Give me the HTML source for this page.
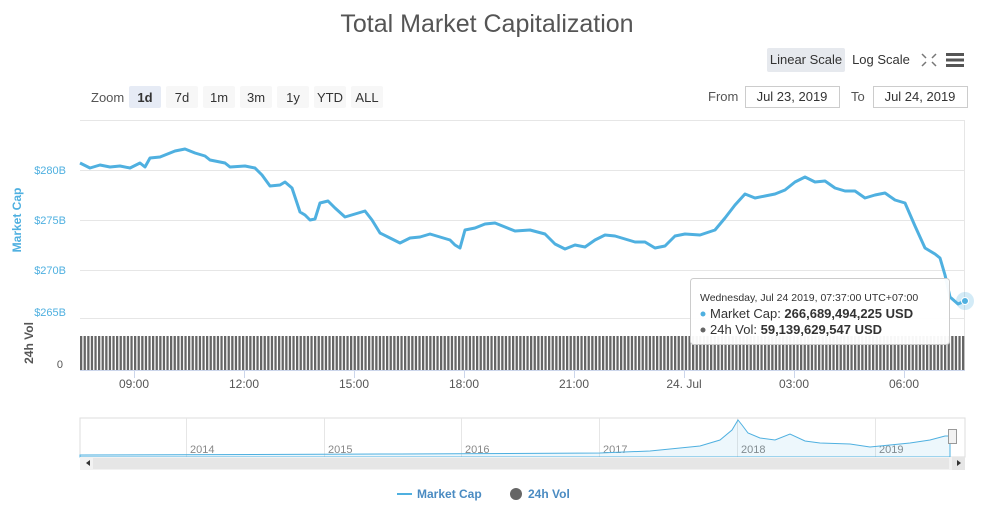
<!DOCTYPE html>
<html><head><meta charset="utf-8"><style>
body{margin:0;background:#fff;font-family:"Liberation Sans",sans-serif;}
</style></head><body>
<svg width="981" height="509" viewBox="0 0 981 509" xmlns="http://www.w3.org/2000/svg" font-family="Liberation Sans, sans-serif">
<defs>
<pattern id="vb" x="80" y="0" width="3.6" height="10" patternUnits="userSpaceOnUse"><rect x="0" y="0" width="2.3" height="10" fill="#666"/></pattern>
</defs>
<text x="487" y="32" text-anchor="middle" font-size="25" fill="#555">Total Market Capitalization</text>
<rect x="767" y="48" width="78" height="24" rx="2" fill="#e6e9ee"/>
<text x="806" y="64" text-anchor="middle" font-size="13" fill="#333">Linear Scale</text>
<text x="881" y="64" text-anchor="middle" font-size="13" fill="#333">Log Scale</text>
<g stroke="#777" stroke-width="1.5" fill="none"><path d="M922 54l4 4M936 54l-4 4M922 66l4-4M936 66l-4-4"/></g>
<g fill="#555"><rect x="946" y="53" width="18" height="3"/><rect x="946" y="58.5" width="18" height="3"/><rect x="946" y="64" width="18" height="3"/></g>
<text x="91" y="102" font-size="13" fill="#555">Zoom</text>
<g font-size="13" fill="#333" text-anchor="middle">
<rect x="129" y="86" width="32" height="22" rx="2" fill="#e6ebf5"/><text x="145" y="102" font-weight="bold">1d</text>
<rect x="166" y="86" width="32" height="22" rx="2" fill="#f7f7f7"/><text x="182" y="102">7d</text>
<rect x="203" y="86" width="32" height="22" rx="2" fill="#f7f7f7"/><text x="219" y="102">1m</text>
<rect x="240" y="86" width="32" height="22" rx="2" fill="#f7f7f7"/><text x="256" y="102">3m</text>
<rect x="277" y="86" width="32" height="22" rx="2" fill="#f7f7f7"/><text x="293" y="102">1y</text>
<rect x="314" y="86" width="32" height="22" rx="2" fill="#f7f7f7"/><text x="330" y="102">YTD</text>
<rect x="351" y="86" width="32" height="22" rx="2" fill="#f7f7f7"/><text x="367" y="102">ALL</text>
</g>
<text x="708" y="101" font-size="13" fill="#555">From</text>
<rect x="745.5" y="86.5" width="94" height="21" fill="#fff" stroke="#ccc"/>
<text x="792" y="101" text-anchor="middle" font-size="13" fill="#333">Jul 23, 2019</text>
<text x="851" y="101" font-size="13" fill="#555">To</text>
<rect x="873.5" y="86.5" width="94" height="21" fill="#fff" stroke="#ccc"/>
<text x="920" y="101" text-anchor="middle" font-size="13" fill="#333">Jul 24, 2019</text>
<g stroke="#e6e6e6" stroke-width="1"><line x1="80" y1="120.5" x2="965" y2="120.5"/><line x1="80" y1="170.5" x2="965" y2="170.5"/><line x1="80" y1="220.5" x2="965" y2="220.5"/><line x1="80" y1="270.5" x2="965" y2="270.5"/><line x1="80" y1="318.5" x2="965" y2="318.5"/><line x1="964.5" y1="120" x2="964.5" y2="370"/></g>
<g font-size="11" fill="#4fb0e0" text-anchor="end"><text x="66" y="174">$280B</text><text x="66" y="224">$275B</text><text x="66" y="274">$270B</text><text x="66" y="316">$265B</text></g>
<text transform="translate(21,220) rotate(-90)" text-anchor="middle" font-size="12" font-weight="bold" fill="#4fb0e0">Market Cap</text>
<text transform="translate(33,343) rotate(-90)" text-anchor="middle" font-size="12" font-weight="bold" fill="#555">24h Vol</text>
<text x="63" y="368" font-size="11" fill="#555" text-anchor="end">0</text>
<rect x="80" y="336" width="885" height="34" fill="url(#vb)"/>
<line x1="80" y1="370.5" x2="965" y2="370.5" stroke="#ccd6eb"/>
<g stroke="#ccd6eb"><line x1="134.5" y1="370" x2="134.5" y2="378"/><line x1="244.5" y1="370" x2="244.5" y2="378"/><line x1="354.5" y1="370" x2="354.5" y2="378"/><line x1="464.5" y1="370" x2="464.5" y2="378"/><line x1="574.5" y1="370" x2="574.5" y2="378"/><line x1="684.5" y1="370" x2="684.5" y2="378"/><line x1="794.5" y1="370" x2="794.5" y2="378"/><line x1="904.5" y1="370" x2="904.5" y2="378"/></g>
<g font-size="12" fill="#555" text-anchor="middle"><text x="134" y="388">09:00</text><text x="244" y="388">12:00</text><text x="354" y="388">15:00</text><text x="464" y="388">18:00</text><text x="574" y="388">21:00</text><text x="684" y="388">24. Jul</text><text x="794" y="388">03:00</text><text x="904" y="388">06:00</text></g>
<polyline fill="none" stroke="#4fb0e0" stroke-width="3" stroke-linejoin="round" points="80,163 90,168 100,165 110,167 120,166 130,168 140,163 145,167 150,158 160,157 170,153 175,151 185,149 195,153 205,156 210,160 215,161 225,163 230,167 245,166 255,168 262,175 270,186 280,185 285,182 292,188 300,212 305,215 310,220 315,219 320,203 328,201 335,208 345,217 355,214 365,211 372,220 380,233 390,238 400,243 410,238 420,237 430,234 440,237 450,240 455,245 460,248 465,230 475,228 485,224 495,223 505,227 515,231 530,230 545,234 555,244 565,249 575,245 585,247 595,240 605,235 615,236 625,239 635,242 645,242 655,248 665,246 675,236 685,234 700,235 715,230 725,218 735,205 745,194 755,198 765,196 775,194 785,190 795,182 805,177 815,182 825,181 835,188 845,191 855,191 865,198 875,195 885,193 895,200 905,203 915,226 925,248 935,254 940,258 945,275 950,297 958,304 965,301"/>
<circle cx="965" cy="301" r="9" fill="#4fb0e0" opacity="0.25"/><circle cx="965" cy="301" r="3.5" fill="#4fb0e0" stroke="#fff"/>
<rect x="690.5" y="278.5" width="259" height="66" rx="3" fill="#fff" fill-opacity="0.95" stroke="#ccc"/>
<text x="700" y="301" font-size="10.5" fill="#333">Wednesday, Jul 24 2019, 07:37:00 UTC+07:00</text>
<circle cx="703" cy="314" r="2.5" fill="#4fb0e0"/><text x="710" y="318" font-size="13" fill="#333">Market Cap: <tspan font-weight="bold">266,689,494,225 USD</tspan></text>
<circle cx="703" cy="330" r="2.5" fill="#666"/><text x="710" y="334" font-size="13" fill="#333">24h Vol: <tspan font-weight="bold">59,139,629,547 USD</tspan></text>
<rect x="80" y="418" width="885" height="39" fill="#fff" stroke="#ddd"/>
<g stroke="#e6e6e6"><line x1="186.5" y1="418" x2="186.5" y2="457"/><line x1="324.5" y1="418" x2="324.5" y2="457"/><line x1="461.5" y1="418" x2="461.5" y2="457"/><line x1="599.5" y1="418" x2="599.5" y2="457"/><line x1="737.5" y1="418" x2="737.5" y2="457"/><line x1="875.5" y1="418" x2="875.5" y2="457"/></g>
<g font-size="11" fill="#888"><text x="190" y="453">2014</text><text x="328" y="453">2015</text><text x="465" y="453">2016</text><text x="603" y="453">2017</text><text x="741" y="453">2018</text><text x="879" y="453">2019</text></g>
<path d="M80,455 L400,454 L600,453 L650,451 L700,446 L720,440 L732,430 L738,420 L742,425 L748,433 L760,438 L775,440 L790,434 L805,441 L820,443 L850,444 L870,447 L890,445 L910,443 L930,440 L945,436 L950,436 L950,457 L80,457Z" fill="#4fb0e0" fill-opacity="0.1" stroke="#4fb0e0" stroke-width="1"/>
<rect x="948.5" y="429.5" width="8" height="14" fill="#f2f2f2" stroke="#999"/>
<rect x="80" y="457" width="885" height="13" fill="#f2f2f2"/>
<rect x="93" y="458" width="856" height="11" fill="#e6e6e6"/>
<path d="M86,463 l4,-3 v6z" fill="#333"/><rect x="952" y="457" width="13" height="13" fill="#e6e6e6"/><path d="M961,463 l-4,-3 v6z" fill="#333"/>
<line x1="397" y1="494" x2="412" y2="494" stroke="#4fb0e0" stroke-width="2"/>
<text x="417" y="498" font-size="12" font-weight="bold" fill="#4a8bc2">Market Cap</text>
<circle cx="516" cy="494" r="6" fill="#666"/>
<text x="528" y="498" font-size="12" font-weight="bold" fill="#4a8bc2">24h Vol</text>
</svg>
</body></html>
